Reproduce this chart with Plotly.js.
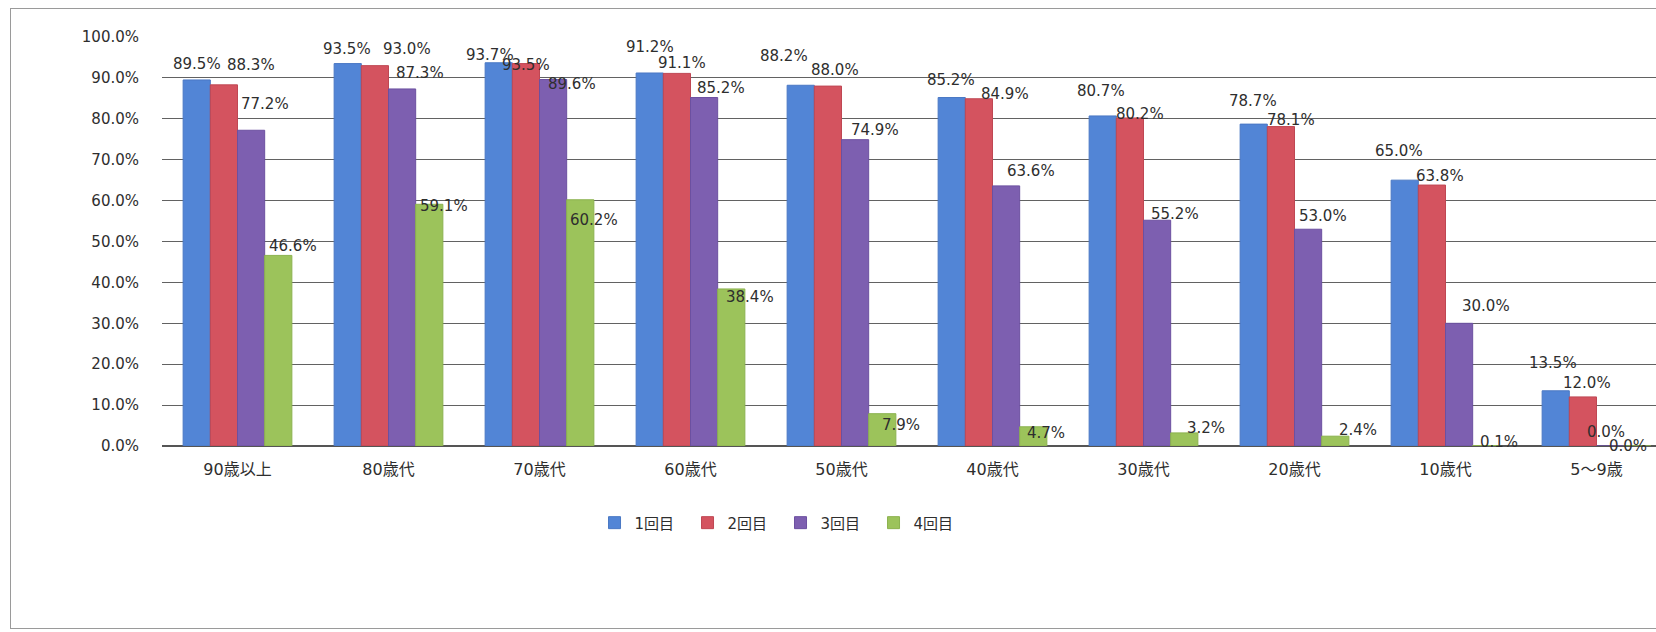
<!DOCTYPE html>
<html>
<head>
<meta charset="utf-8">
<script src="https://cdn.plot.ly/plotly-3.0.1.min.js"></script>
<style>
  html, body { margin: 0; padding: 0; background: #ffffff; }
  #wrap { position: relative; width: 1656px; height: 632px; overflow: hidden; }
  #chart { position: absolute; left: 0; top: 0; width: 1656px; height: 632px; }
  #frame { position: absolute; left: 10px; top: 8px; width: 1700px; height: 619px; border: 1px solid #9a9a9a; pointer-events: none; }
</style>
</head>
<body>
<div id="wrap">
  <div id="chart"></div>
  <div id="frame"></div>
</div>
<script>
// ---- data ----
const categories = ['90歳以上', '80歳代', '70歳代', '60歳代', '50歳代', '40歳代', '30歳代', '20歳代', '10歳代', '5～9歳'];
const seriesNames = ['1回目', '2回目', '3回目', '4回目'];
const dose1 = [89.5, 93.5, 93.7, 91.2, 88.2, 85.2, 80.7, 78.7, 65.0, 13.5];
const dose2 = [88.3, 93.0, 93.5, 91.1, 88.0, 84.9, 80.2, 78.1, 63.8, 12.0];
const dose3 = [77.2, 87.3, 89.6, 85.2, 74.9, 63.6, 55.2, 53.0, 30.0, 0.0];
const dose4 = [46.6, 59.1, 60.2, 38.4, 7.9, 4.7, 3.2, 2.4, 0.1, 0.0];
const yTickValues = [0, 10, 20, 30, 40, 50, 60, 70, 80, 90, 100];

// ---- styling (label placement offsets in px, per series, per category) ----
const labelDx = [
  [0, -1, -9, 0, -17, -1, -2, -1, -6, -3],
  [27, 32, 0, 5, 7, 26, 10, 10, 8, 4],
  [14, 18, 19, 17, 20, 25, 18, 15, 27, -4],
  [15, 15, 14, 19, 19, 13, 22, 23, 13, -9]
];
const labelDy = [
  [-16, -15, -8, -26, -29, -18, -25, -23, -29, -28],
  [-20, -17, 1, -10, -16, -5, -4, -7, -9, -14],
  [-26, -16, 4, -10, -10, -15, -6, -13, -17, -14],
  [-9, 2, 20, 8, 11, 6, -5, -6, -4, 0]
];
const colors = ['#5285d6', '#d4535f', '#7d5fb0', '#9cc35b'];
const edgeColors = ['#4a78c4', '#bf4753', '#6c50a0', '#8cb24f'];

const allSeries = [dose1, dose2, dose3, dose4];
const bargap = 0.28;
const barW = (1 - bargap) / 4;
const fam = 'DejaVu Sans, Noto Sans CJK JP, sans-serif';
const textFont = { family: fam, size: 15, color: '#2e2e2e' };

const traces = allSeries.map((vals, s) => ({
  type: 'bar',
  name: seriesNames[s],
  x: categories,
  y: vals,
  marker: { color: colors[s], line: { color: edgeColors[s], width: 1 } },
  hoverinfo: 'skip'
}));

const annotations = [];
allSeries.forEach((vals, s) => {
  vals.forEach((v, c) => {
    annotations.push({
      xref: 'x', yref: 'y',
      x: c + (s - 1.5) * barW,
      y: v,
      text: v.toFixed(1) + '%',
      showarrow: false,
      xanchor: 'center', yanchor: 'middle',
      xshift: labelDx[s][c],
      yshift: -labelDy[s][c],
      borderpad: 0,
      font: textFont
    });
  });
});

const plotLeft = 162, catPx = 151, width = 1656;
const layout = {
  width: 1656, height: 632,
  paper_bgcolor: 'rgba(0,0,0,0)',
  plot_bgcolor: 'rgba(0,0,0,0)',
  margin: { l: plotLeft, r: 0, t: 37, b: 186 },
  barmode: 'group',
  bargap: bargap,
  bargroupgap: 0,
  showlegend: true,
  legend: {
    orientation: 'h', x: 0.414, xanchor: 'center', y: -0.188, yanchor: 'middle',
    font: { family: fam, size: 15, color: '#2e2e2e' },
    itemwidth: 30, traceorder: 'normal',
    entrywidth: 48, entrywidthmode: 'pixels'
  },
  xaxis: {
    type: 'category',
    range: [-0.5, -0.5 + (width - plotLeft) / catPx],
    showgrid: false, zeroline: false, showline: false,
    ticks: '',
    tickfont: { family: fam, size: 16, color: '#2e2e2e' },
    ticklabelstandoff: 12,
    fixedrange: true
  },
  yaxis: {
    range: [0, 100],
    tickvals: yTickValues,
    ticktext: yTickValues.map(v => v.toFixed(1) + '%'),
    showgrid: true, gridcolor: '#626262', gridwidth: 1,
    zeroline: true, zerolinecolor: '#555555', zerolinewidth: 1.5,
    showline: false, ticks: '',
    tickfont: { family: fam, size: 15, color: '#2e2e2e' },
    ticklabelstandoff: 22,
    fixedrange: true
  },
  annotations: annotations
};

Plotly.newPlot('chart', traces, layout, { displayModeBar: false, staticPlot: true });
</script>
</body>
</html>
